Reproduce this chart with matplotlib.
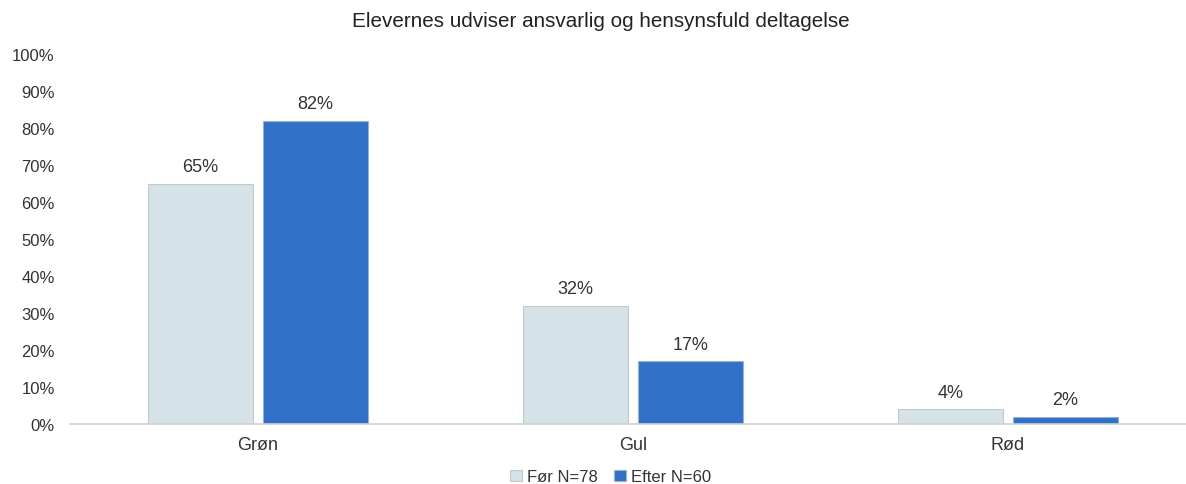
import matplotlib.pyplot as plt
import numpy as np

plt.rcParams['font.family'] = ['Liberation Sans', 'DejaVu Sans']

categories = ['Grøn', 'Gul', 'Rød']
foer = [65, 32, 4]
efter = [82, 17, 2]
series_names = ['Før N=78', 'Efter N=60']
yticks = [0, 10, 20, 30, 40, 50, 60, 70, 80, 90, 100]

fig = plt.figure(figsize=(11.86, 4.85), dpi=100)
ax = fig.add_axes([70 / 1186, 60 / 485, 1116 / 1186, 370 / 485])

x = np.arange(len(categories))
w = 0.28
off = 0.153
b1 = ax.bar(x - off, foer, w, color='#D5E2E8', edgecolor='#BFC9CE', linewidth=0.8, label=series_names[0])
b2 = ax.bar(x + off, efter, w, color='#3070C6', edgecolor='#9AB2D2', linewidth=0.8, label=series_names[1])

for bars, vals in [(b1, foer), (b2, efter)]:
    for b, v in zip(bars, vals):
        ax.text(b.get_x() + b.get_width() / 2, v + 2.2, f'{v}%', ha='center', va='bottom',
                fontsize=13, color='#333333')

ax.set_xlim(-0.501, 2.475)
ax.set_ylim(0, 100)
ax.set_yticks(yticks)
ax.set_yticklabels([f'{t}%' for t in yticks], fontsize=12, color='#333333')
ax.set_xticks(x)
ax.set_xticklabels(categories, fontsize=13, color='#333333')
ax.tick_params(axis='both', length=0)
ax.tick_params(axis='x', pad=9)
ax.tick_params(axis='y', pad=11)

for s in ['top', 'right', 'left']:
    ax.spines[s].set_visible(False)
ax.spines['bottom'].set_color('#D0D0D0')
ax.spines['bottom'].set_linewidth(1.2)

fig.suptitle('Elevernes udviser ansvarlig og hensynsfuld deltagelse', x=0.507, y=0.975,
             fontsize=14.9, color='#222222')

fig.legend(loc='center', bbox_to_anchor=(0.515, 0.015), ncol=2, frameon=False, fontsize=12,
           handlelength=0.7, handleheight=0.7, handletextpad=0.3, columnspacing=1.0,
           labelcolor='#333333')

fig.savefig('out.png', dpi=100)
